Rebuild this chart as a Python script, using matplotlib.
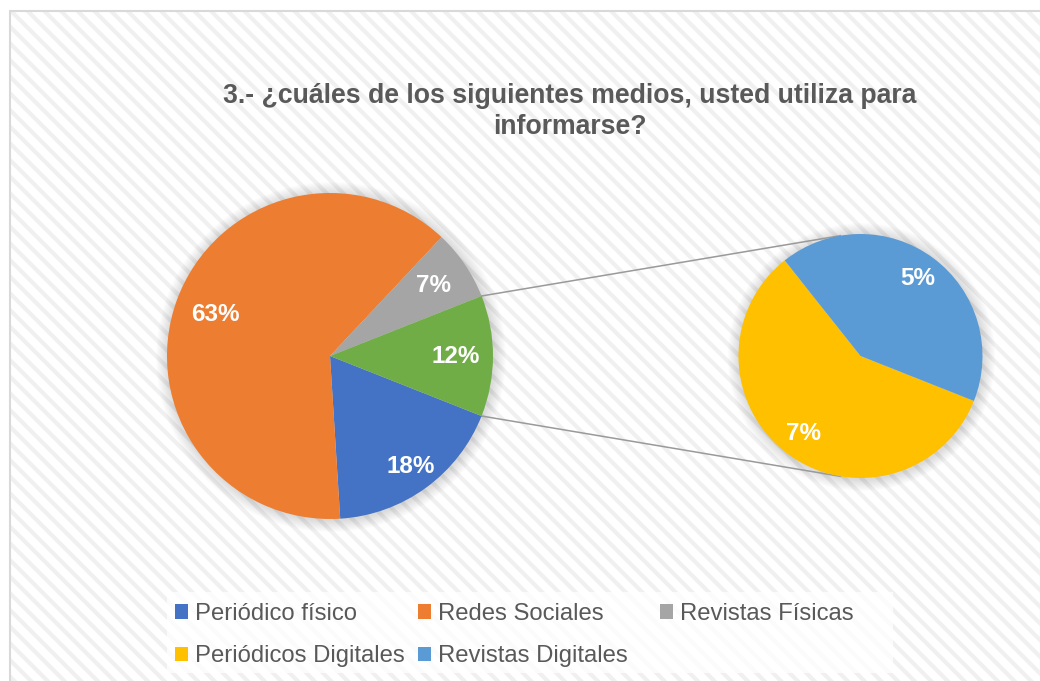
import numpy as np
import matplotlib.pyplot as plt
from matplotlib.patches import Rectangle, Circle, Patch

plt.rcParams['font.family'] = ['Liberation Sans', 'DejaVu Sans']
plt.rcParams['hatch.linewidth'] = 3.0

# datos
title = "3.- ¿cuáles de los siguientes medios, usted utiliza para\ninformarse?"
main_labels = ["Periódico físico", "Redes Sociales", "Revistas Físicas"]
main_values = [18, 63, 7]
sub_labels = ["Periódicos Digitales", "Revistas Digitales"]
sub_values = [7, 5]

main_colors = ["#4472C4", "#ED7D31", "#A5A5A5", "#70AD47"]
sub_colors = ["#FFC000", "#5B9BD5"]

W, H = 1040, 681
fig = plt.figure(figsize=(W / 100, H / 100), dpi=100)
ax = fig.add_axes([0, 0, 1, 1])
ax.set_xlim(0, W)
ax.set_ylim(0, H)
ax.axis('off')

# fondo rayado + borde
ax.add_patch(Rectangle((9.5, -10), W, H - 0.5, facecolor='white', edgecolor='#f0f0f0',
                       hatch='\\\\', linewidth=0, zorder=0))
ax.add_patch(Rectangle((9.5, -10), W, H - 0.5, fill=False, edgecolor='#d9d9d9',
                       linewidth=1.5, zorder=1))

c1, r1 = (330, 325), 163
c2, r2 = (860.5, 325), 122

# sombra suave
for c, r in [(c1, r1), (c2, r2)]:
    for k in range(1, 13):
        ax.add_patch(Circle((c[0] + 1, c[1] - 1), r + k, facecolor='#000000',
                            alpha=0.012, linewidth=0, zorder=2))

otros = sum(sub_values)
vals1 = main_values + [otros]
start = -0.5 * 360 * otros / sum(vals1)

lbl = dict(color='white', fontsize=17.5, fontweight='bold')
w1, _, t1 = ax.pie(vals1, colors=main_colors, startangle=start, counterclock=False,
                   center=c1, radius=r1, autopct='%1.0f%%', pctdistance=0.77,
                   wedgeprops=dict(linewidth=0), textprops=lbl, frame=True)
w2, _, t2 = ax.pie(sub_values, colors=sub_colors, startangle=start, counterclock=False,
                   center=c2, radius=r2,
                   autopct=lambda p: f"{p * otros / 100:.0f}%", pctdistance=0.79,
                   wedgeprops=dict(linewidth=0), textprops=lbl, frame=True)
for w in w1 + w2:
    w.set_zorder(3)
for t in t1 + t2:
    t.set_zorder(4)

# ajuste de posicion de etiquetas
for w, t, d in zip(w1, t1, [0.84, 0.75, 0.77, 0.77]):
    a = np.deg2rad((w.theta1 + w.theta2) / 2)
    t.set_position((c1[0] + d * r1 * np.cos(a), c1[1] + d * r1 * np.sin(a)))

ax.set_xlim(0, W)
ax.set_ylim(0, H)
ax.set_aspect('equal')
ax.axis('off')

# lineas de conexion
g = w1[-1]
for th, th2 in [(g.theta2, 99.5), (g.theta1, -99.5)]:
    p1 = (c1[0] + r1 * np.cos(np.deg2rad(th)), c1[1] + r1 * np.sin(np.deg2rad(th)))
    p2 = (c2[0] + r2 * np.cos(np.deg2rad(th2)), c2[1] + r2 * np.sin(np.deg2rad(th2)))
    ax.plot([p1[0], p2[0]], [p1[1], p2[1]], color='#9a9a9a', linewidth=1.1, zorder=2.5)

fig.text(570 / W, 1 - 111.5 / H, title, ha='center', va='center', fontsize=19.2,
         fontweight='bold', color='#595959', linespacing=1.25)

# leyenda
ax.add_patch(Rectangle((167, 8), 726, 81, facecolor='white', alpha=0.75,
                       linewidth=0, zorder=2))
all_labels = main_labels + sub_labels
all_colors = main_colors[:3] + sub_colors
cols = [[0, 3], [1, 4], [2]]
col_x = [175, 418, 660]
for xi, idx in zip(col_x, cols):
    handles = [Patch(facecolor=all_colors[i], edgecolor='none') for i in idx]
    fig.legend(handles, [all_labels[i] for i in idx], loc='upper left',
               bbox_to_anchor=(xi / W, 1 - 603 / H), frameon=False, fontsize=17.2,
               labelcolor='#595959', handlelength=0.55, handleheight=0.55,
               handletextpad=0.27, labelspacing=0.85, borderpad=0, borderaxespad=0)

fig.savefig('out.png', dpi=100)
